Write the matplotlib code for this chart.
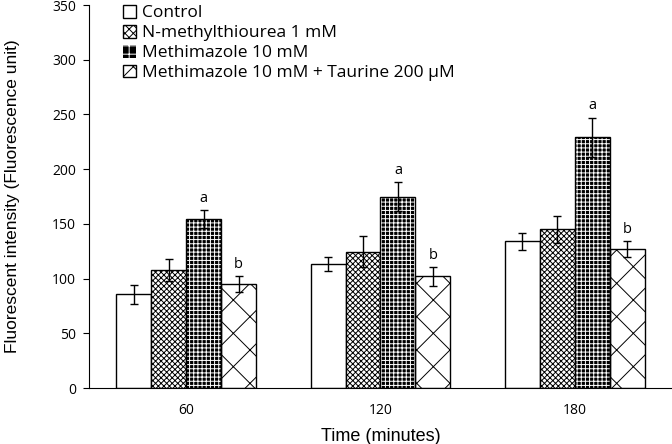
import matplotlib.pyplot as plt
import numpy as np
from matplotlib.patches import Patch

# data
times = ['60', '120', '180']
series = ['Control', 'N-methylthiourea 1 mM', 'Methimazole 10 mM',
          'Methimazole 10 mM + Taurine 200 \u00b5M']
control = [85.5, 113.5, 134]
control_err = [8.5, 6.5, 8]
nmt = [107.5, 124.5, 145]
nmt_err = [10, 14, 12.5]
mmi = [154.5, 175, 229]
mmi_err = [8, 13, 18]
mmi_tau = [95, 102, 127]
mmi_tau_err = [7, 8.5, 7]
letters_mmi = ['a', 'a', 'a']
letters_tau = ['b', 'b', 'b']

plt.rcParams['font.family'] = ['Open Sans', 'DejaVu Sans']
plt.rcParams['hatch.linewidth'] = 0.7

fig = plt.figure(figsize=(6.72, 4.44), dpi=100)
ax = fig.add_axes([0.1324, 0.1261, 0.8676, 0.8626])

x = np.arange(len(times))
w = 0.18
offs = [-1.5 * w, -0.5 * w, 0.5 * w, 1.5 * w]
ekw = dict(ecolor='black', elinewidth=1, capsize=3, capthick=1)

ax.bar(x + offs[0], control, w, color='white', edgecolor='black', lw=1,
       yerr=control_err, error_kw=ekw, zorder=2)
ax.bar(x + offs[1], nmt, w, color='white', edgecolor='black', lw=1,
       hatch='xxxxxx', yerr=nmt_err, error_kw=ekw, zorder=2)
# black bar with white dots
ax.bar(x + offs[2], mmi, w, color='black', edgecolor='white', lw=0,
       hatch='++++', zorder=2)
ax.bar(x + offs[2], mmi, w, fill=False, edgecolor='black', lw=1,
       yerr=mmi_err, error_kw=ekw, zorder=3)
ax.bar(x + offs[3], mmi_tau, w, color='white', edgecolor='black', lw=1,
       hatch='x', yerr=mmi_tau_err, error_kw=ekw, zorder=2)

for i in range(len(times)):
    ax.text(x[i] + offs[2], mmi[i] + mmi_err[i] + 4, letters_mmi[i],
            ha='center', va='bottom', fontsize=10.5)
    ax.text(x[i] + offs[3], mmi_tau[i] + mmi_tau_err[i] + 4, letters_tau[i],
            ha='center', va='bottom', fontsize=10.5)

ax.set_xlim(-0.5, 2.5)
ax.set_ylim(0, 350)
ax.set_yticks(np.arange(0, 351, 50))
ax.set_xticks(x)
ax.set_xticklabels(times)
ax.tick_params(axis='y', direction='out', length=4.5, labelsize=10, pad=5)
ax.tick_params(axis='x', length=0, labelsize=10, pad=11)
ax.spines['top'].set_visible(False)
ax.spines['right'].set_visible(False)

ax.set_xlabel('Time (minutes)', family=['Liberation Sans'], fontsize=13,
              labelpad=7)
ax.set_ylabel('Fluorescent intensity (Fluorescence unit)',
              family=['Liberation Sans'], fontsize=12.5)
ax.yaxis.set_label_coords(-0.118, 0.5)

handles = [
    Patch(facecolor='white', edgecolor='black', lw=1),
    Patch(facecolor='white', edgecolor='black', lw=1, hatch='xxxx'),
    Patch(facecolor='black', edgecolor='white', lw=0, hatch='++'),
    Patch(facecolor='white', edgecolor='black', lw=1, hatch='x'),
]
ax.legend(handles, series, loc='upper left', bbox_to_anchor=(0.058, 1.0),
          frameon=False, fontsize=12.5, handlelength=0.75, handleheight=0.75,
          handletextpad=0.35, labelspacing=0.2, borderpad=0,
          borderaxespad=0)

fig.savefig('out.png', dpi=100)
